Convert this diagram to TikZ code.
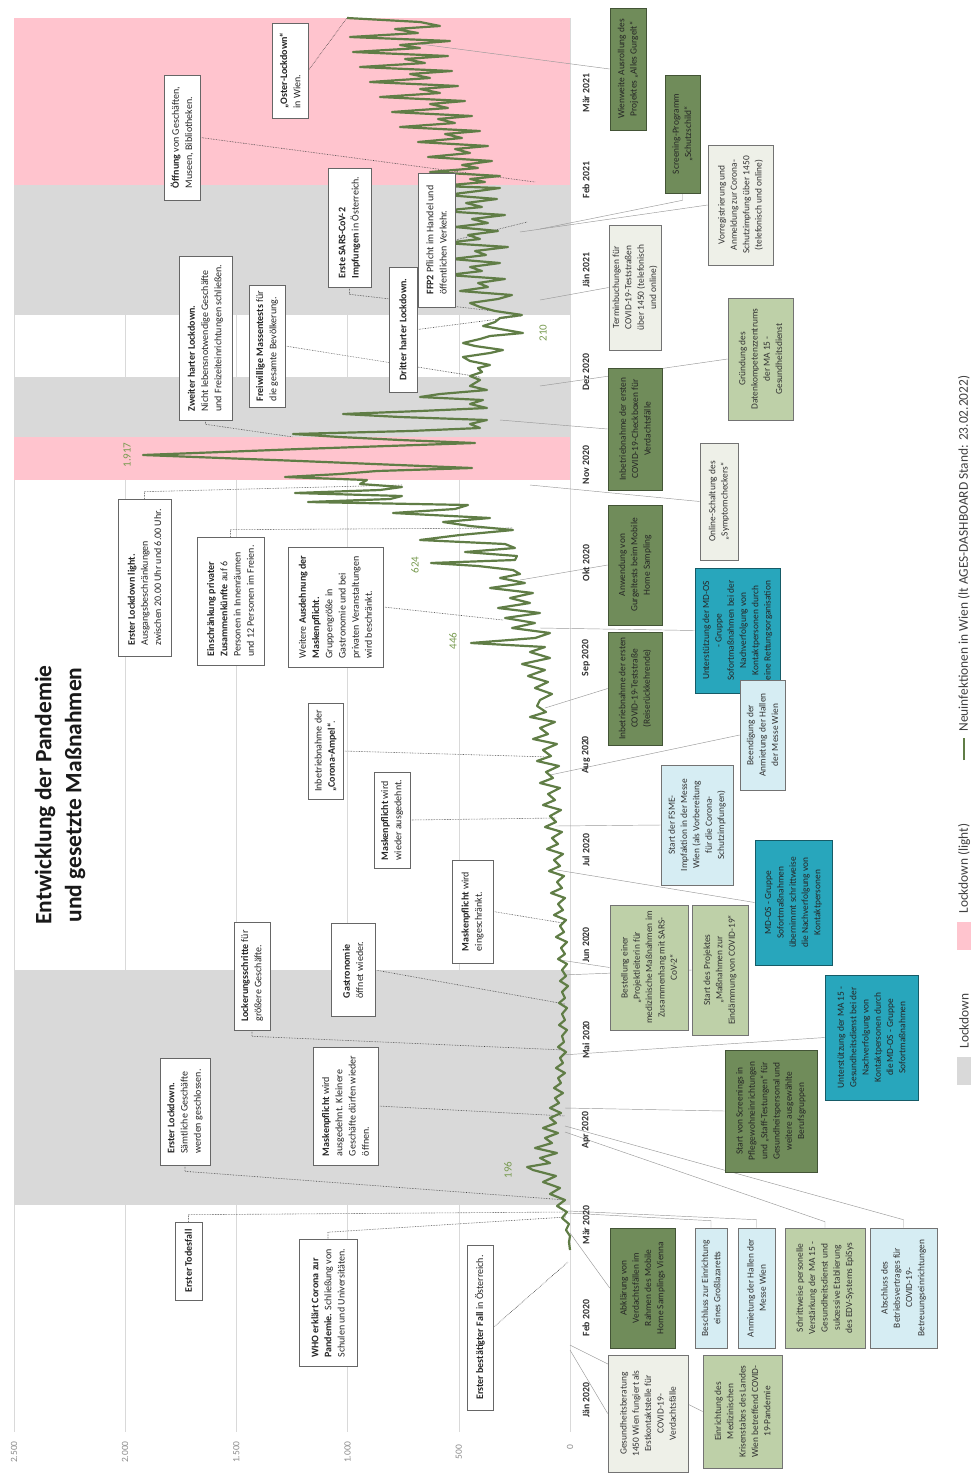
\documentclass[tikz,border=0pt]{standalone}
\usepackage{fontspec}
\setmainfont{Carlito}
\definecolor{dkgreen}{RGB}{112,140,90}
\definecolor{ltgreen}{RGB}{190,208,168}
\definecolor{palegrey}{RGB}{238,240,232}
\definecolor{lightblue}{RGB}{214,237,243}
\definecolor{tealc}{RGB}{40,166,188}
\definecolor{pinkband}{RGB}{255,196,206}
\definecolor{greyband}{RGB}{217,217,217}
\definecolor{curvegreen}{RGB}{96,125,70}
\definecolor{numgreen}{RGB}{120,155,80}
\pgfdeclarelayer{bands}
\pgfdeclarelayer{links}
\pgfsetlayers{bands,links,main}
\tikzset{
  lbox/.style={draw=black!60, line width=0.6pt, fill=white, rotate=90, align=left,
    inner xsep=4pt, inner ysep=3pt, font=\fontsize{10}{13.2}\selectfont, text=black!85},
  rbox/.style={draw=black!55, line width=0.6pt, rotate=90, align=center,
    inner xsep=3pt, inner ysep=2pt, font=\fontsize{9.4}{12.3}\selectfont, text=black!80},
  boxdg/.style={rbox, fill=dkgreen, draw=dkgreen!60!black, text=black!85},
  boxlg/.style={rbox, fill=ltgreen},
  boxpl/.style={rbox, fill=palegrey},
  boxlb/.style={rbox, fill=lightblue},
  boxtl/.style={rbox, fill=tealc, draw=tealc!55!black, text=black!85},
  lconn/.style={densely dotted, line width=0.6pt, black!75},
  rconn/.style={line width=0.45pt, black!40},
  curveline/.style={line width=2.2pt, curvegreen, line join=round},
  gridline/.style={line width=0.4pt, black!15},
  month/.style={rotate=90, font=\fontsize{9.8}{11}\selectfont\bfseries, text=black!80},
  axislbl/.style={rotate=90, font=\fontsize{9.5}{10}\selectfont, text=black!45},
  peaklbl/.style={rotate=90, font=\fontsize{11}{12}\selectfont, text=numgreen},
  legendtxt/.style={rotate=90, anchor=west, font=\fontsize{13.4}{15}\selectfont, text=black!75},
}
\begin{document}
\begin{tikzpicture}[x=1pt,y=-1pt]
\useasboundingbox (0,0) rectangle (970,1476);

\begin{pgfonlayer}{bands}
\fill[white] (0,0) rectangle (970,1476);
% value grid (0 ... 2.500)
\foreach \gx in {14,125.2,236.4,347.6,458.8,570}
  \draw[gridline] (\gx,18) -- (\gx,1432);
% lockdown periods
\fill[pinkband] (14,18) rectangle (570,185);
\fill[greyband] (14,185) rectangle (570,315);
\fill[greyband] (14,377) rectangle (570,437);
\fill[pinkband] (14,437) rectangle (570,480);
\fill[greyband] (14,970) rectangle (570,1205);
\end{pgfonlayer}

% title
\node[rotate=90, align=center, font=\fontsize{23.5}{30}\selectfont\bfseries, text=black!90] (title) at (60,795)
  {Entwicklung der Pandemie\\und gesetzte Maßnahmen};

% value axis labels
\node[axislbl] (a2500) at (14,1452) {2.500};
\node[axislbl] (a2000) at (125.2,1452) {2.000};
\node[axislbl] (a1500) at (236.4,1452) {1.500};
\node[axislbl] (a1000) at (347.6,1452) {1.000};
\node[axislbl] (a500) at (458.8,1452) {500};
\node[axislbl] (a0) at (570,1447) {0};

% months
\node[month] (m01) at (586,1400) {Jän 2020};
\node[month] (m02) at (586,1318) {Feb 2020};
\node[month] (m03) at (586,1225) {Mär 2020};
\node[month] (m04) at (586,1130) {Apr 2020};
\node[month] (m05) at (586,1040) {Mai 2020};
\node[month] (m06) at (586,945) {Jun 2020};
\node[month] (m07) at (586,850) {Jul 2020};
\node[month] (m08) at (586,755) {Aug 2020};
\node[month] (m09) at (586,658) {Sep 2020};
\node[month] (m10) at (586,563) {Okt 2020};
\node[month] (m11) at (586,465) {Nov 2020};
\node[month] (m12) at (586,372) {Dez 2020};
\node[month] (m13) at (586,270) {Jän 2021};
\node[month] (m14) at (586,180) {Feb 2021};
\node[month] (m15) at (586,93) {Mär 2021};

% points on the curve that the notes refer to
\coordinate (e1) at (347,18);
\coordinate (e2) at (535,182);
\coordinate (e3) at (520,314);
\coordinate (e4) at (527,222);
\coordinate (e5) at (522,316);
\coordinate (e6) at (293,437);
\coordinate (e7) at (480,377);
\coordinate (e8) at (402,485);
\coordinate (e9) at (513,528);
\coordinate (e10) at (503,620);
\coordinate (e11) at (550,757);
\coordinate (e12) at (556,818);
\coordinate (e13) at (563,923);
\coordinate (e14) at (565,1004);
\coordinate (e15) at (565,1050);
\coordinate (e16) at (565,1116);
\coordinate (e17) at (566,1200);
\coordinate (e18) at (566,1212);
\coordinate (e19) at (566,1217);
\coordinate (e20) at (568,1262);
\coordinate (f1) at (420,44);
\coordinate (f2) at (540,229);
\coordinate (f3) at (520,232);
\coordinate (f4) at (540,300);
\coordinate (f5) at (540,386);
\coordinate (f6) at (500,420);
\coordinate (f7) at (530,485);
\coordinate (f8) at (520,580);
\coordinate (f9) at (540,628);
\coordinate (f10) at (545,708);
\coordinate (f11) at (550,775);
\coordinate (f12) at (555,826);
\coordinate (f13) at (557,870);
\coordinate (f14) at (560,960);
\coordinate (f15) at (562,975);
\coordinate (f16) at (562,1055);
\coordinate (f17) at (565,1108);
\coordinate (f18) at (570,1233);
\coordinate (f19) at (568,1213);
\coordinate (f20) at (568,1211);
\coordinate (f21) at (565,1132);
\coordinate (f22) at (565,1126);
\coordinate (f23) at (570,1350);
\coordinate (f24) at (570,1345);

% ---- notes on measures (left) ----
\node[lbox, minimum width=95, minimum height=36] (oster) at (290,70.5) {\textbf{„Oster-Lockdown“}\\in Wien.};
\node[lbox, minimum width=125, minimum height=36] (oeffnung) at (182,137.5) {\textbf{Öffnung} von Geschäften,\\Museen, Bibliotheken.};
\node[lbox, minimum width=119, minimum height=43] (impf) at (349.5,227.5) {\textbf{Erste SARS-CoV-2}\\\textbf{Impfungen} in Österreich.};
\node[lbox, minimum width=134, minimum height=37] (ffp2) at (436.5,240) {\textbf{FFP2} Pflicht im Handel und\\öffentlichen Verkehr.};
\node[lbox, minimum width=125, minimum height=28] (dritter) at (403,329.5) {\textbf{Dritter harter Lockdown.}};
\node[lbox, minimum width=164, minimum height=53] (zweiter) at (205.5,338) {\textbf{Zweiter harter Lockdown.}\\Nicht lebensnotwendige Geschäfte\\und Freizeiteinrichtungen schließen.};
\node[lbox, minimum width=122, minimum height=36] (massen) at (267,346) {\textbf{Freiwillige Massentests} für\\die gesamte Bevölkerung.};
\node[lbox, minimum width=157, minimum height=53] (light) at (144.5,577.5) {\textbf{Erster Lockdown light.}\\Ausgangsbeschränkungen\\zwischen 20.00 Uhr und 6.00 Uhr.};
\node[lbox, minimum width=128, minimum height=67] (einschr) at (230.5,601) {\textbf{Einschränkung privater}\\\textbf{Zusammenkünfte} auf 6\\Personen in Innenräumen\\und 12 Personen im Freien.};
\node[lbox, minimum width=120, minimum height=95] (weitere) at (335.5,607) {Weitere \textbf{Ausdehnung der}\\\textbf{Maskenpflicht.}\\Gruppengröße in\\Gastronomie und bei\\privaten Veranstaltungen\\wird beschränkt.};
\node[lbox, minimum width=96, minimum height=35] (ampel) at (325.5,751) {Inbetriebnahme der\\\textbf{„Corona-Ampel“}.};
\node[lbox, minimum width=96, minimum height=36] (maskw) at (392,820) {\textbf{Maskenpflicht} wird\\wieder ausgedehnt.};
\node[lbox, minimum width=103, minimum height=41] (maskeing) at (472.5,911.5) {\textbf{Maskenpflicht} wird\\eingeschränkt.};
\node[lbox, minimum width=108, minimum height=36] (lock) at (252,976) {\textbf{Lockerungsschritte} für\\größere Geschäfte.};
\node[lbox, minimum width=93, minimum height=44] (gastro) at (353,970) {\textbf{Gastronomie}\\öffnet wieder.};
\node[lbox, minimum width=118, minimum height=65] (maskaus) at (345.5,1106) {\textbf{Maskenpflicht} wird\\ausgedehnt. Kleinere\\Geschäfte dürfen wieder\\öffnen.};
\node[lbox, minimum width=107, minimum height=50] (lockdown1) at (185,1111.5) {\textbf{Erster Lockdown.}\\Sämtliche Geschäfte\\werden geschlossen.};
\node[lbox, minimum width=78, minimum height=27] (tod) at (188.5,1261) {\textbf{Erster Todesfall}};
\node[lbox, minimum width=127, minimum height=58] (who) at (328,1303) {\textbf{WHO erklärt Corona zur}\\\textbf{Pandemie.} Schließung von\\Schulen und Universitäten.};
\node[lbox, minimum width=165, minimum height=26] (fall) at (480,1327.5) {\textbf{Erster bestätigter Fall} in Österreich.};

% ---- measures of the city (right) ----
\node[boxdg, minimum width=122, minimum height=36] (r1) at (628,69) {Wienweite Ausrollung des\\Projektes „Alles Gurgelt“};
\node[boxdg, minimum width=118, minimum height=35] (r2) at (682.5,134) {Screening-Programm\\„Schutzschild“};
\node[boxpl, minimum width=120, minimum height=65] (r3) at (740.5,205) {Vorregistrierung und\\Anmeldung zur Corona-\\Schutzimpfung über 1450\\(telefonisch und online)};
\node[boxpl, minimum width=125, minimum height=52] (r4) at (635,287.5) {Terminbuchungen für\\COVID-19-Teststraßen\\über 1450 (telefonisch\\und online)};
\node[boxlg, minimum width=122, minimum height=65] (r5) at (760.5,359) {Gründung des\\Datenkompetenzzentrums\\der MA 15 -\\Gesundheitsdienst};
\node[boxdg, minimum width=122, minimum height=54] (r6) at (635,429) {Inbetriebnahme der ersten\\COVID-19-Checkboxen für\\Verdachtsfälle};
\node[boxpl, minimum width=117, minimum height=38] (r7) at (719,501.5) {Online-Schaltung des\\„Symptomcheckers“};
\node[boxdg, minimum width=120, minimum height=54] (r8) at (635,565) {Anwendung von\\Gurgeltests beim Mobile\\Home Sampling};
\node[boxtl, minimum width=125, minimum height=85] (r9) at (737.5,630.5) {Unterstützung der MD-OS\\- Gruppe\\Sofortmaßnahmen bei der\\Nachverfolgung von\\Kontaktpersonen durch\\eine Rettungsorganisation};
\node[boxdg, minimum width=113, minimum height=54] (r10) at (635,688.5) {Inbetriebnahme der ersten\\COVID-19-Teststraße\\(Reiserückkehrende)};
\node[boxlb, minimum width=110, minimum height=45] (r11) at (762.5,735) {Beendigung der\\Anmietung der Hallen\\der Messe Wien};
\node[boxlb, minimum width=120, minimum height=72] (r12) at (697,825) {Start der FSME-\\Impfaktion in der Messe\\Wien (als Vorbereitung\\für die Corona-\\Schutzimpfungen)};
\node[boxtl, minimum width=125, minimum height=77] (r13) at (793.5,902.5) {MD-OS - Gruppe\\Sofortmaßnahmen\\übernimmt schrittweise\\die Nachverfolgung von\\Kontaktpersonen};
\node[boxlg, minimum width=125, minimum height=78] (r14) at (649,967.5) {Bestellung einer\\„Projektleiterin für\\medizinische Maßnahmen im\\Zusammenhang mit SARS-\\CoV-2“};
\node[boxlg, minimum width=130, minimum height=56] (r15) at (720,970) {Start des Projektes\\„Maßnahmen zur\\Eindämmung von COVID-19“};
\node[boxtl, minimum width=125, minimum height=93] (r16) at (871.5,1037.5) {Unterstützung der MA 15 -\\Gesundheitsdienst bei der\\Nachverfolgung von\\Kontaktpersonen durch\\die MD-OS - Gruppe\\Sofortmaßnahmen};
\node[boxdg, minimum width=122, minimum height=92] (r17) at (771,1111) {Start von Screenings in\\Pflegewohneinrichtungen\\und „Staff-Testungen“ für\\Gesundheitspersonal und\\weitere ausgewählte\\Berufsgruppen};
\node[boxdg, minimum width=120, minimum height=65] (r18) at (642.5,1288) {Abklärung von\\Verdachtsfällen im\\Rahmen des Mobile\\Home Samplings Vienna};
\node[boxlb, minimum width=120, minimum height=32] (r19) at (711,1288) {Beschluss zur Einrichtung\\eines Großlazaretts};
\node[boxlb, minimum width=120, minimum height=37] (r20) at (756.5,1288) {Anmietung der Hallen der\\Messe Wien};
\node[boxlg, minimum width=120, minimum height=80] (r21) at (825,1288) {Schrittweise personelle\\Verstärkung der MA 15 -\\Gesundheitsdienst und\\sukzessive Etablierung\\des EDV-Systems EpiSys};
\node[boxlb, minimum width=120, minimum height=67] (r22) at (903.5,1288) {Abschluss des\\Betriebsvertrages für\\COVID-19-\\Betreuungseinrichtungen};
\node[boxpl, minimum width=117, minimum height=80] (r23) at (648,1413.5) {Gesundheitsberatung\\1450 Wien fungiert als\\Erstkontaktstelle für\\COVID-19-\\Verdachtsfälle};
\node[boxlg, minimum width=113, minimum height=79] (r24) at (742.5,1411.5) {Einrichtung des\\Medizinischen\\Krisenstabes des Landes\\Wien betreffend COVID-\\19-Pandemie};

% ---- connectors and the curve, kept behind the boxes ----
\begin{pgfonlayer}{links}
\draw[lconn] (oster.south) -- (e1);
\draw[lconn] (oeffnung.south) -- (e2);
\draw[lconn] (impf.west) -- ++(0,7) -- (e3);
\draw[lconn] (ffp2.south) -- (e4);
\draw[lconn] (dritter.south) -- (e5);
\draw[lconn] (zweiter.west) -- ++(0,4) -- (e6);
\draw[lconn] (massen.south) -- (e7);
\draw[lconn] (light.east) -- ++(0,-7) -- (e8);
\draw[lconn] (einschr.east) -- ++(0,-7) -- (e9);
\draw[lconn] (weitere.south) -- (e10);
\draw[lconn] (ampel.south) -- (e11);
\draw[lconn] (maskw.south) -- (e12);
\draw[lconn] (maskeing.south) -- (e13);
\draw[lconn] (gastro.south) -- (e14);
\draw[lconn] (lock.west) -- ++(0,6) -- (e15);
\draw[lconn] (maskaus.south) -- (e16);
\draw[lconn] (lockdown1.west) -- ++(0,6) -- (e17);
\draw[lconn] (tod.east) -- ++(0,-7) -- (e18);
\draw[lconn] (who.east) -- ++(0,-7) -- (e19);
\draw[lconn] (fall.south) -- (e20);

\draw[rconn] (r1.north) -- (f1);
\draw[rconn] (r2.west) -- ++(0,7) -- (f2);
\draw[rconn] (r3.north) -- (f3);
\draw[rconn] (r4.north) -- (f4);
\draw[rconn] (r5.north) -- (f5);
\draw[rconn] (r6.north) -- (f6);
\draw[rconn] (r7.north) -- (f7);
\draw[rconn] (r8.north) -- (f8);
\draw[rconn] (r9.north) -- (f9);
\draw[rconn] (r10.north) -- (f10);
\draw[rconn] (r11.north) -- (f11);
\draw[rconn] (r12.north) -- (f12);
\draw[rconn] (r13.north) -- (f13);
\draw[rconn] (r14.north) -- (f14);
\draw[rconn] (r15.north) -- (f15);
\draw[rconn] (r16.north) -- (f16);
\draw[rconn] (r17.north) -- (f17);
\draw[rconn] (r18.north) -- (f18);
\draw[rconn] (r19.east) -- ++(0,-7) -- (f19);
\draw[rconn] (r20.east) -- ++(0,-8) -- (f20);
\draw[rconn] (r21.east) -- ++(0,-6) -- (f21);
\draw[rconn] (r22.east) -- ++(0,-8) -- (f22);
\draw[rconn] (r23.north) -- (f23);
\draw[rconn] (r24.north) -- (f24);

% daily new infections in Vienna
\draw[curveline] plot coordinates {
(570,1250) (569,1242) (570,1236) (566,1230) (569,1224) (562,1218) (567,1212) (557,1206)
(565,1200) (550,1194) (560,1188) (543,1182) (556,1176) (533,1170) (527,1167) (550,1163)
(540,1158) (557,1153) (535,1148) (552,1143) (545,1138) (558,1133) (543,1128) (556,1123)
(550,1118) (561,1113) (550,1108) (559,1103) (555,1098) (563,1093) (554,1088) (561,1083)
(558,1078) (565,1073) (556,1068) (563,1063) (560,1058) (566,1052) (558,1047) (564,1042)
(562,1036) (567,1030) (559,1025) (565,1020) (562,1014) (567,1008) (559,1003) (565,998)
(562,992) (568,986) (560,981) (566,976) (562,970) (567,964) (558,959) (565,954)
(561,948) (567,942) (556,937) (564,932) (560,926) (566,920) (554,915) (563,910)
(558,904) (565,898) (551,893) (562,888) (557,882) (564,876) (549,871) (560,866)
(554,860) (563,854) (547,849) (558,844) (552,838) (562,832) (545,827) (556,822)
(550,816) (561,810) (543,805) (555,800) (548,794) (560,788) (540,783) (553,778)
(546,772) (559,766) (537,761) (551,756) (543,750) (557,744) (533,739) (548,734)
(540,728) (555,722) (530,717) (546,712) (537,706) (540,700) (552,694) (535,688)
(548,682) (528,676) (545,670) (522,664) (550,658) (530,652) (545,647) (471,643)
(535,638) (550,633) (512,628) (535,623) (505,618) (540,613) (498,608) (530,603)
(510,598) (533,593) (490,588) (525,583) (500,578) (520,574) (513,570) (478,566)
(431,563) (515,560) (517,556) (465,552) (515,548) (505,544) (420,540) (460,535)
(513,530) (470,526) (443,522) (490,518) (393,513) (455,509) (468,505) (308,502)
(390,499) (402,496) (295,493) (380,490) (402,487) (360,484) (367,480) (285,477)
(340,474) (377,471) (472,468) (300,461) (143,455) (300,449) (475,443) (400,440)
(340,437) (293,434) (410,431) (480,428) (470,424) (487,420) (400,417) (343,414)
(420,411) (487,408) (470,404) (483,400) (420,397) (440,394) (487,390) (470,386)
(480,380) (470,376) (482,372) (478,368) (490,365) (470,361) (463,357) (490,353)
(503,350) (475,346) (463,343) (480,339) (490,336) (523,333) (500,329) (483,326)
(495,322) (500,318) (522,315) (495,311) (480,307) (470,303) (498,299) (512,295)
(460,291) (488,287) (478,283) (505,279) (448,275) (482,271) (470,267) (500,263)
(452,259) (486,255) (475,251) (508,247) (445,243) (480,239) (468,235) (498,231)
(455,227) (488,223) (472,219) (505,215) (440,211) (482,207) (466,203) (497,199)
(446,195) (478,191) (500,188) (440,186) (485,182) (470,179) (500,176) (430,172)
(478,168) (462,165) (492,161) (428,157) (470,153) (455,149) (488,146) (418,142)
(462,138) (445,134) (480,131) (400,127) (455,123) (438,119) (472,116) (392,112)
(448,108) (430,104) (465,101) (380,97) (440,93) (420,89) (458,86) (370,82)
(430,78) (410,74) (452,71) (360,67) (425,63) (405,59) (448,56) (353,52)
(420,48) (400,45) (450,41) (350,37) (418,33) (395,29) (440,26) (420,22) (347,18)
};
\end{pgfonlayer}

% values at marked days
\node[peaklbl] (v1917) at (127,455) {1.917};
\node[peaklbl] (v624) at (415,565) {624};
\node[peaklbl] (v446) at (453,641) {446};
\node[peaklbl] (v196) at (508,1170) {196};
\node[peaklbl] (v210) at (543,333) {210};

% legend
\fill[greyband] (957,1057) rectangle (972,1085);
\node[legendtxt] (lgA) at (964,1052) {Lockdown};
\fill[pinkband] (957,922) rectangle (972,950);
\node[legendtxt] (lgB) at (964,917) {Lockdown (light)};
\draw[curvegreen, line width=2pt] (964,760) -- (964,738);
\node[legendtxt] (lgC) at (964,735) {Neuinfektionen in Wien (lt AGES-DASHBOARD Stand: 23.02.2022)};
\end{tikzpicture}
\end{document}
